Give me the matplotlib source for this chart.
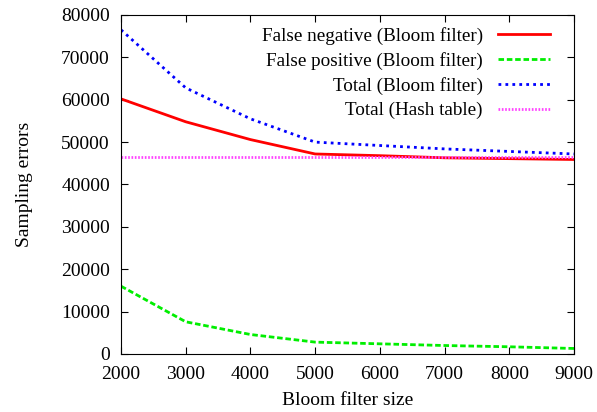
import matplotlib
matplotlib.use("Agg")
import matplotlib.pyplot as plt

plt.rcParams['font.family'] = ['Liberation Serif', 'DejaVu Serif']

sizes = [2000, 3000, 4000, 5000, 6000, 7000, 8000, 9000]
false_negative = [60200, 54800, 50600, 47200, 46800, 46300, 46100, 45900]
false_positive = [16000, 7600, 4600, 2800, 2400, 2000, 1700, 1300]
total_bloom = [76500, 62800, 55500, 50000, 49200, 48400, 47800, 47200]
total_hash = [46500] * len(sizes)

fig = plt.figure(figsize=(5.97, 4.12), dpi=100)
ax = fig.add_axes([0.2027, 0.1408, 0.7588, 0.8228])

ax.plot(sizes, false_negative, color='#ff0000', lw=2, ls='-',
        label='False negative (Bloom filter)')
ax.plot(sizes, false_positive, color='#00ee00', lw=2, ls=(0, (2, 1)),
        label='False positive (Bloom filter)')
ax.plot(sizes, total_bloom, color='#0000ff', lw=2, ls=(0, (1, 1.5)),
        label='Total (Bloom filter)')
ax.plot(sizes, total_hash, color='#ff44ff', lw=2, ls=(0, (0.6, 0.6)),
        label='Total (Hash table)')

ax.set_xlim(2000, 9000)
ax.set_ylim(0, 80000)
ax.set_xticks(range(2000, 9001, 1000))
ax.set_yticks(range(0, 80001, 10000))
ax.tick_params(direction='in', top=True, right=True, labelsize=14, length=5)
ax.tick_params(axis='x', pad=9)
ax.tick_params(axis='y', pad=8)
ax.set_xlabel('Bloom filter size', fontsize=14, labelpad=6)
ax.set_ylabel('Sampling errors', fontsize=14, labelpad=20)

ax.legend(loc='upper right', frameon=False, markerfirst=False, fontsize=13.8,
          handlelength=2.7, handletextpad=0.8, labelspacing=0.37,
          borderaxespad=0, borderpad=0, bbox_to_anchor=(0.947, 0.965))

fig.savefig('out.png', dpi=100)
